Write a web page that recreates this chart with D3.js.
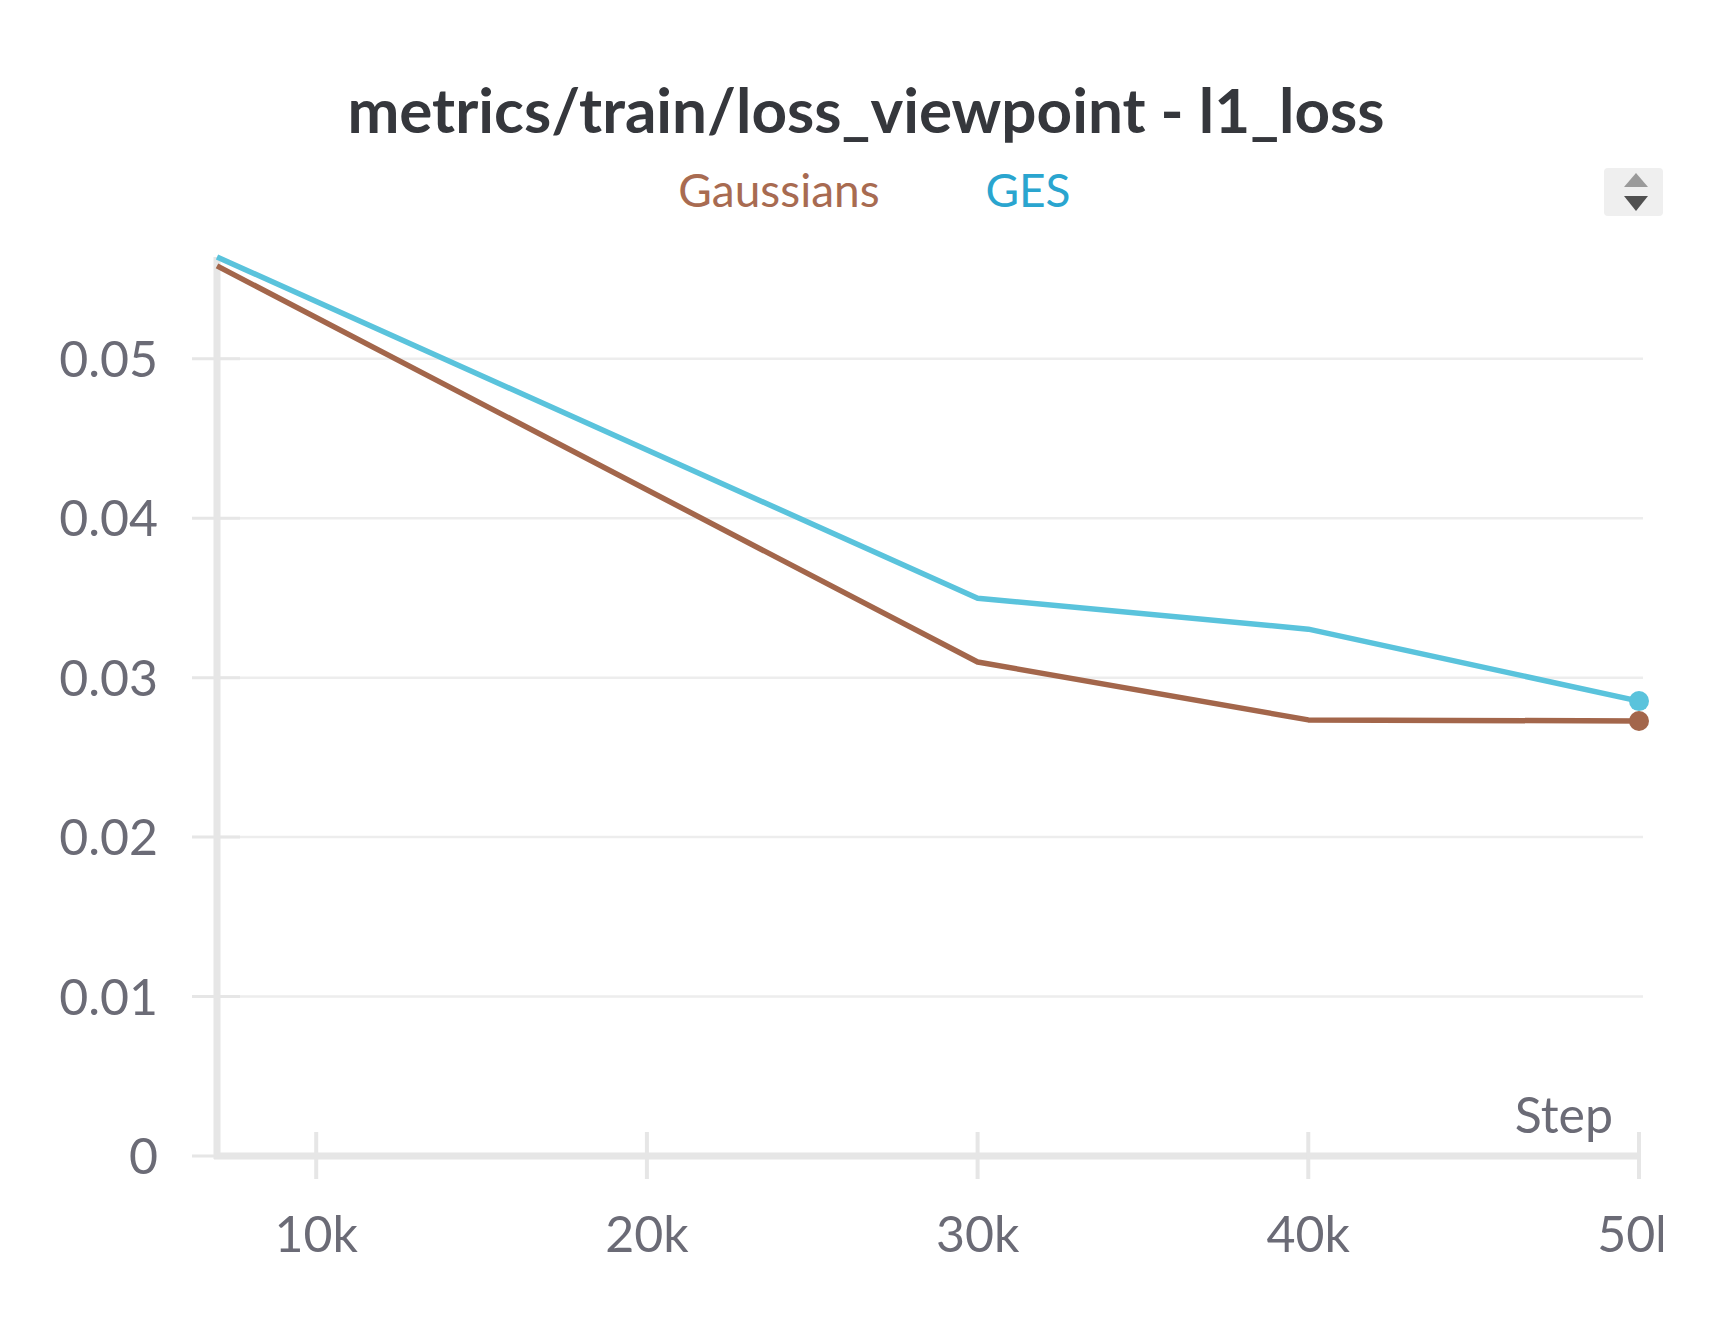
<!DOCTYPE html>
<html>
<head>
<meta charset="utf-8">
<title>metrics/train/loss_viewpoint - l1_loss</title>
<script src="https://d3js.org/d3.v7.min.js"></script>
<style>
  body { margin: 0; background: #fff; }
  svg { display: block; font-family: Lato, "Noto Sans", sans-serif; }
  .tick-label { fill: #6b6b76; font-size: 50px; }
</style>
</head>
<body>
<svg id="chart" width="1728" height="1328"></svg>
<script>
// values
var steps = [7000, 30000, 40000, 50000];
var gaussians = [0.05582, 0.03098, 0.02735, 0.02728];
var ges = [0.05638, 0.03498, 0.03304, 0.02853];
var seriesNames = ["Gaussians", "GES"];
var xTicks = [10000, 20000, 30000, 40000, 50000];
var xTickLabels = ["10k", "20k", "30k", "40k", "50k"];
var yTicks = [0, 0.01, 0.02, 0.03, 0.04, 0.05];
var yTickLabels = ["0", "0.01", "0.02", "0.03", "0.04", "0.05"];

var colors = { Gaussians: "#a3664b", GES: "#5ac3dc" };
var legendColors = { Gaussians: "#a86b51", GES: "#2aa5cf" };

var svg = d3.select("#chart");

var x = d3.scaleLinear().domain([7000, 50000]).range([217, 1639]);
var y = d3.scaleLinear().domain([0, d3.max(ges)]).range([1156, 257]);

// title
svg.append("text")
  .attr("x", 866).attr("y", 133)
  .attr("text-anchor", "middle")
  .style("font-size", "62px").style("font-weight", "bold")
  .style("fill", "#35373c")
  .text("metrics/train/loss_viewpoint - l1_loss");

// legend
var legendX = { Gaussians: 779, GES: 1028 };
seriesNames.forEach(function(name) {
  svg.append("text")
    .attr("x", legendX[name]).attr("y", 207)
    .attr("text-anchor", "middle")
    .style("font-size", "46px")
    .style("fill", legendColors[name])
    .text(name);
});

// sort button
svg.append("rect")
  .attr("x", 1604).attr("y", 168).attr("width", 59).attr("height", 48)
  .attr("rx", 4).attr("fill", "#efefef");
svg.append("path").attr("d", "M1636,173 L1648,187 L1624,187 Z").attr("fill", "#9a9a9a");
svg.append("path").attr("d", "M1624,196 L1648,196 L1636,211 Z").attr("fill", "#505050");

// gridlines + y ticks
var yAxis = svg.append("g");
yAxis.selectAll("line.grid")
  .data(yTicks.slice(1))
  .enter().append("line")
  .attr("x1", 217).attr("x2", 1643)
  .attr("y1", function(d) { return y(d); })
  .attr("y2", function(d) { return y(d); })
  .attr("stroke", "#ededed").attr("stroke-width", 2.5);
yAxis.selectAll("line.tick")
  .data(yTicks)
  .enter().append("line")
  .attr("x1", 192).attr("x2", 240)
  .attr("y1", function(d) { return y(d); })
  .attr("y2", function(d) { return y(d); })
  .attr("stroke", "#e6e6e6").attr("stroke-width", 3);
yAxis.selectAll("text")
  .data(yTicks)
  .enter().append("text")
  .attr("class", "tick-label")
  .attr("x", 158)
  .attr("y", function(d) { return y(d); })
  .attr("dy", "0.36em")
  .attr("text-anchor", "end")
  .text(function(d, i) { return yTickLabels[i]; });

// axis lines
svg.append("line")
  .attr("x1", 217).attr("x2", 217)
  .attr("y1", y.range()[1]).attr("y2", 1159)
  .attr("stroke", "#e6e6e6").attr("stroke-width", 7);
svg.append("line")
  .attr("x1", 214).attr("x2", 1640)
  .attr("y1", 1156).attr("y2", 1156)
  .attr("stroke", "#e6e6e6").attr("stroke-width", 7);

// x ticks
svg.append("defs").append("clipPath").attr("id", "xclip")
  .append("rect").attr("x", 0).attr("y", 1100).attr("width", 1663).attr("height", 228);
var xAxis = svg.append("g").attr("clip-path", "url(#xclip)");
xAxis.selectAll("line")
  .data(xTicks)
  .enter().append("line")
  .attr("x1", function(d) { return x(d); })
  .attr("x2", function(d) { return x(d); })
  .attr("y1", 1132).attr("y2", 1179)
  .attr("stroke", "#e6e6e6").attr("stroke-width", 4);
xAxis.selectAll("text")
  .data(xTicks)
  .enter().append("text")
  .attr("class", "tick-label")
  .attr("x", function(d) { return x(d); })
  .attr("y", 1252)
  .attr("text-anchor", "middle")
  .text(function(d, i) { return xTickLabels[i]; });

svg.append("text")
  .attr("class", "tick-label")
  .attr("x", 1613).attr("y", 1133)
  .attr("text-anchor", "end")
  .text("Step");

// lines
var data = {
  Gaussians: steps.map(function(s, i) { return [s, gaussians[i]]; }),
  GES: steps.map(function(s, i) { return [s, ges[i]]; })
};
var line = d3.line()
  .x(function(d) { return x(d[0]); })
  .y(function(d) { return y(d[1]); });

["Gaussians", "GES"].forEach(function(name) {
  svg.append("path")
    .datum(data[name])
    .attr("d", line)
    .attr("fill", "none")
    .attr("stroke", colors[name])
    .attr("stroke-width", 5.5)
    .attr("stroke-linejoin", "round");
  var last = data[name][data[name].length - 1];
  svg.append("circle")
    .attr("cx", x(last[0])).attr("cy", y(last[1]))
    .attr("r", 10)
    .attr("fill", colors[name]);
});
</script>
</body>
</html>
